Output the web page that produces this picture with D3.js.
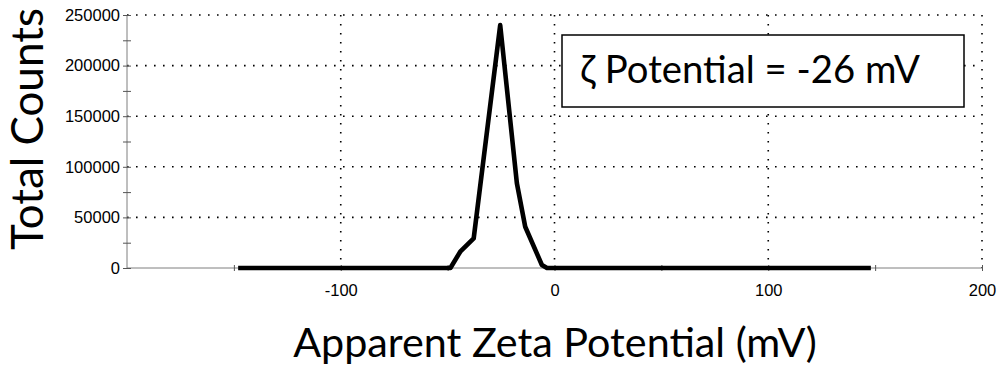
<!DOCTYPE html>
<html><head><meta charset="utf-8">
<script src="https://cdn.jsdelivr.net/npm/d3@7/dist/d3.min.js"></script>
<style>html,body{margin:0;padding:0;background:#fff;} svg{display:block;}</style>
</head><body>
<svg id="chart" width="999" height="368"></svg>
<script>
// Data
const zeta = [-148, -48.7, -44.1, -37.8, -25.4, -17.6, -13.7, -5.9, -3.5, 148];
const counts = [0, 0, 16100, 29300, 240000, 83700, 40800, 3000, 0, 0];
const yTicks = [0, 50000, 100000, 150000, 200000, 250000];
const yMinorTicks = [0, 25000, 50000, 75000, 100000, 125000, 150000, 175000, 200000, 225000, 250000];
const xTicks = [-100, 0, 100, 200];
const xMinorTicks = [-150, -100, -50, 0, 50, 100, 150, 200];
const xTitle = "Apparent Zeta Potential (mV)";
const yTitle = "Total Counts";
const note = "ζ Potential = -26 mV";

const svg = d3.select("#chart");
const x = d3.scaleLinear().domain([-200, 200]).range([127, 982]);
const y = d3.scaleLinear().domain([0, 250000]).range([268, 15]);

const titleFont = "Lato, 'Open Sans', sans-serif";
const tickFont = "'Liberation Sans', Arial, sans-serif";

// grid
svg.append("g").selectAll("line").data(yTicks.filter(d => d > 0)).join("line")
  .attr("x1", x(-200)).attr("x2", x(200))
  .attr("y1", d => y(d)).attr("y2", d => y(d))
  .attr("stroke", "#000").attr("stroke-width", 1.6).attr("stroke-dasharray", "1.6,7.4");
svg.append("g").selectAll("line").data(xTicks).join("line")
  .attr("x1", d => x(d)).attr("x2", d => x(d))
  .attr("y1", y(250000)).attr("y2", y(0))
  .attr("stroke", "#000").attr("stroke-width", 1.6).attr("stroke-dasharray", "1.6,7.4");

// axes
const gx = svg.append("g").attr("transform", `translate(0,${y(0)})`)
  .call(d3.axisBottom(x).tickValues(xMinorTicks).tickSize(3).tickFormat(d => xTicks.includes(d) ? String(d) : ""));
gx.select(".domain").attr("stroke", "#7f7f7f").attr("d", `M${x(-200)},0H${x(200)}`);
gx.selectAll(".tick line").attr("stroke", "#555").attr("y1", -3).attr("y2", 3);
gx.selectAll(".tick text").attr("font-family", tickFont).attr("font-size", 16.5).attr("fill", "#000").attr("dy", "0.71em").attr("y", 16);

const gy = svg.append("g").attr("transform", `translate(${x(-200)},0)`)
  .call(d3.axisLeft(y).tickValues(yMinorTicks).tickSize(3).tickFormat(d => yTicks.includes(d) ? String(d) : ""));
gy.select(".domain").attr("stroke", "#7f7f7f").attr("d", `M0,${y(250000)}V${y(0)}`);
gy.selectAll(".tick line").attr("stroke", "#555").attr("x1", -4).attr("x2", 4);
gy.selectAll(".tick text").attr("font-family", tickFont).attr("font-size", 16.5).attr("fill", "#000").attr("x", -7);

// data line
svg.append("path").datum(zeta.map((v, i) => [v, counts[i]]))
  .attr("d", d3.line().x(d => x(d[0])).y(d => y(d[1])))
  .attr("fill", "none").attr("stroke", "#000").attr("stroke-width", 4.6)
  .attr("stroke-linejoin", "round");

// fit helper
function fit(sel, width, base) {
  sel.attr("font-size", base);
  const w = sel.node().getComputedTextLength();
  sel.attr("font-size", base * width / w);
}

// annotation box
svg.append("rect").attr("x", 562).attr("y", 35).attr("width", 402).attr("height", 72)
  .attr("fill", "#fff").attr("stroke", "#000").attr("stroke-width", 1.5);
const nt = svg.append("text").attr("x", 580).attr("y", 83).attr("font-family", titleFont)
  .attr("fill", "#000").text(note);
fit(nt, 340, 34);

// axis titles
const xt = svg.append("text").attr("x", 555).attr("y", 357).attr("text-anchor", "middle")
  .attr("font-family", titleFont).attr("fill", "#000").text(xTitle);
fit(xt, 524, 38);
const yt = svg.append("text").attr("transform", "translate(43,129) rotate(-90)").attr("text-anchor", "middle")
  .attr("font-family", titleFont).attr("fill", "#000").text(yTitle);
fit(yt, 242, 38);
</script>
</body></html>
